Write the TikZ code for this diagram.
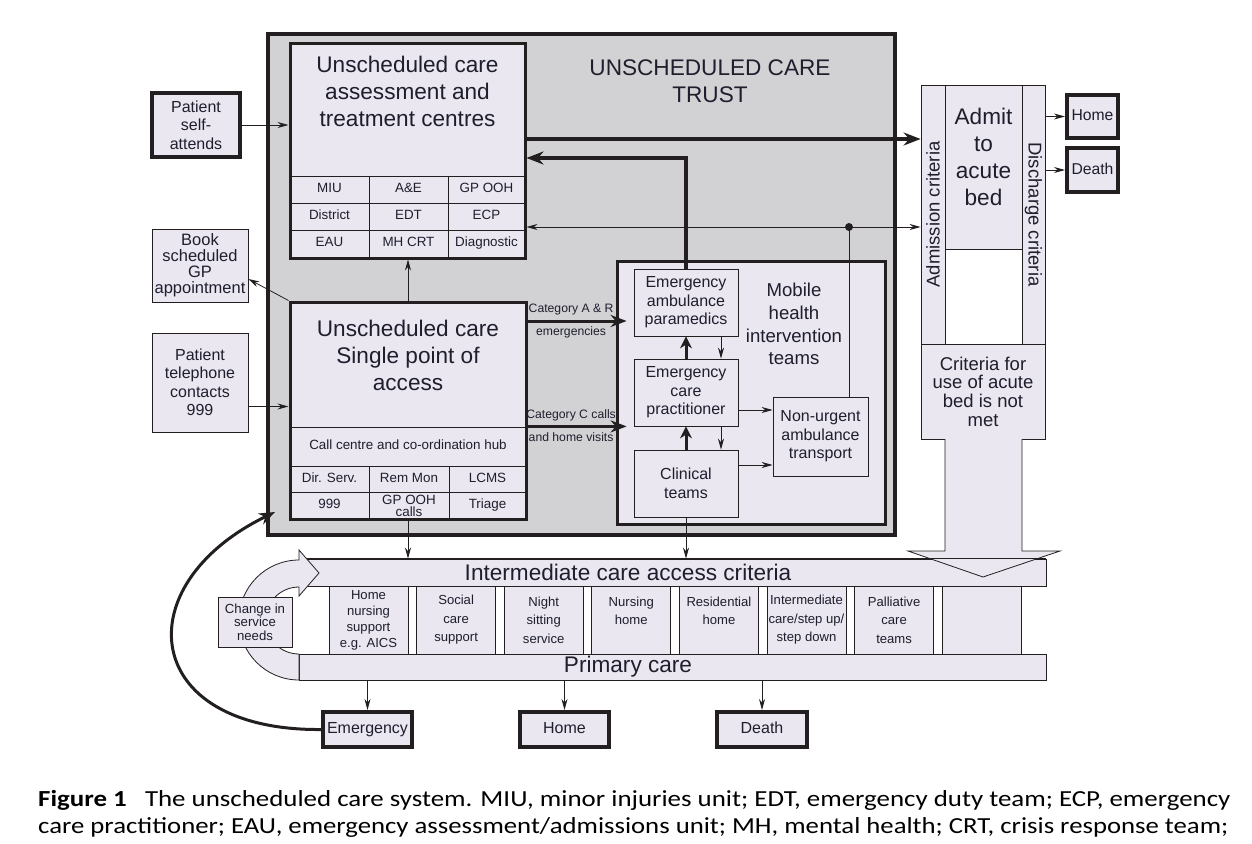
\documentclass[tikz,border=0pt]{standalone}
\usepackage{fontspec}
\usepackage{graphicx}
\setmainfont{Liberation Sans}
\newfontfamily\capfont{Carlito}
\usetikzlibrary{arrows.meta,positioning}
\definecolor{trustgray}{RGB}{210,210,213}
\definecolor{boxfill}{RGB}{234,231,240}
\definecolor{inkline}{RGB}{35,31,32}
\definecolor{inktext}{RGB}{30,30,45}
\newcommand{\fsbig}{\fontsize{22.6pt}{27pt}\selectfont}
\newcommand{\fsmid}{\fontsize{18.6pt}{22.7pt}\selectfont}
\newcommand{\fscrit}{\fontsize{18.5pt}{18.6pt}\selectfont}
\newcommand{\fsbox}{\fontsize{16pt}{18.5pt}\selectfont}
\newcommand{\fsbook}{\fontsize{16.5pt}{16pt}\selectfont}
\newcommand{\fsend}{\fontsize{15.7pt}{18pt}\selectfont}
\newcommand{\fscell}{\fontsize{13.4pt}{16pt}\selectfont}
\newcommand{\fstight}{\fontsize{13.4pt}{12pt}\selectfont}
\newcommand{\fsint}{\fontsize{13.1pt}{18.5pt}\selectfont}
\newcommand{\fsintfour}{\fontsize{13.1pt}{16pt}\selectfont}
\newcommand{\fschange}{\fontsize{13.2pt}{13.5pt}\selectfont}
\newcommand{\fscat}{\fontsize{12.2pt}{14pt}\selectfont}
\newcommand{\fscap}{\capfont\fontsize{23pt}{27pt}\selectfont}

\begin{document}
\begin{tikzpicture}[x=1pt, y=1pt, text=inktext,
  trustbox/.style={draw=inkline, line width=4pt, fill=trustgray, inner sep=0pt},
  heavybox/.style={draw=inkline, line width=3pt, fill=boxfill, inner sep=0pt},
  endbox/.style={draw=inkline, line width=4pt, fill=boxfill, inner sep=0pt, align=center},
  oneline/.style={text height=11.4pt, text depth=3.3pt},
  thinbox/.style={draw=inkline, line width=0.8pt, fill=boxfill, inner sep=0pt, align=center},
  cell/.style={draw=inkline, line width=0.8pt, inner sep=0pt, align=center, font=\fscell,
    text height=9.6pt, text depth=2.8pt},
  intcell/.style={draw=inkline, line width=0.8pt, fill=boxfill, inner sep=0pt, align=center,
    font=\fsint, minimum width=79pt, minimum height=68pt},
  arr/.style={-{Stealth[length=11pt,width=6pt]}, line width=0.8pt, draw=inkline},
  medarr/.style={-{Stealth[length=16pt,width=12pt]}, line width=3pt, draw=inkline},
  shortarr/.style={-{Stealth[length=12pt,width=12pt]}, line width=3pt, draw=inkline},
  heavyarr/.style={-{Stealth[length=17pt,width=13pt]}, line width=4pt, draw=inkline},
]
  \useasboundingbox (0,0) rectangle (1252,-843);
  \fill[white] (0,0) rectangle (1252,-843);

  % trust
  \node[trustbox, minimum width=627pt, minimum height=501pt] (trust) at (581.5,-284.5) {};
  \node[font=\fsbig, align=center] (trusttitle) at (710,-81) {UNSCHEDULED CARE\\TRUST};

  % assessment and treatment centres
  \node[heavybox, minimum width=235pt, minimum height=214pt] (atc) at (407.5,-151) {};
  \node[font=\fsbig, align=center] (atctitle) at (407.5,-91) {Unscheduled care\\assessment and\\treatment centres};
  \node[cell, minimum width=79pt, minimum height=27pt] (miu) at (329.5,-189.5) {MIU};
  \node[cell, minimum width=79pt, minimum height=27pt] (ae) at (408.5,-189.5) {A\&E};
  \node[cell, minimum width=77pt, minimum height=27pt] (gpooh) at (486.5,-189.5) {GP OOH};
  \node[cell, minimum width=79pt, minimum height=27pt] (district) at (329.5,-216.5) {District};
  \node[cell, minimum width=79pt, minimum height=27pt] (edt) at (408.5,-216.5) {EDT};
  \node[cell, minimum width=77pt, minimum height=27pt] (ecpcell) at (486.5,-216.5) {ECP};
  \node[cell, minimum width=79pt, minimum height=27pt] (eau) at (329.5,-243.5) {EAU};
  \node[cell, minimum width=79pt, minimum height=27pt] (mhcrt) at (408.5,-243.5) {MH CRT};
  \node[cell, minimum width=77pt, minimum height=27pt] (diag) at (486.5,-243.5) {Diagnostic};

  % single point of access
  \node[heavybox, minimum width=236pt, minimum height=217pt] (spa) at (408,-410.5) {};
  \node[font=\fsbig, align=center] (spatitle) at (408,-355) {Unscheduled care\\Single point of\\access};
  \node[cell, minimum width=236pt, minimum height=39pt] (spahub) at (408,-446.5) {Call centre and co-ordination hub};
  \node[cell, minimum width=79pt, minimum height=26pt] (dirserv) at (329.5,-479) {Dir. Serv.};
  \node[cell, minimum width=80pt, minimum height=26pt] (remmon) at (409,-479) {Rem Mon};
  \node[cell, minimum width=77pt, minimum height=26pt] (lcms) at (487.5,-479) {LCMS};
  \node[cell, minimum width=79pt, minimum height=27pt] (nine) at (329.5,-505.5) {999};
  \node[cell, font=\fstight, text height={}, text depth={}, minimum width=80pt, minimum height=27pt] (gpcalls) at (409,-505.5) {GP OOH\\calls};
  \node[cell, minimum width=77pt, minimum height=27pt] (triage) at (487.5,-505.5) {Triage};

  % mobile health intervention teams
  \node[heavybox, minimum width=268pt, minimum height=263pt] (mhit) at (751,-392.5) {};
  \node[font=\fsmid, align=center] (mhittitle) at (794,-324) {Mobile\\health\\intervention\\teams};
  \node[thinbox, font=\fsbox, minimum width=104pt, minimum height=67pt] (eap) at (686,-302.5) {Emergency\\ambulance\\paramedics};
  \node[thinbox, font=\fsbox, minimum width=104pt, minimum height=67pt] (ecp) at (686,-392.5) {Emergency\\care\\practitioner};
  \node[thinbox, font=\fsbox, minimum width=104pt, minimum height=67pt] (clin) at (686,-483.5) {Clinical\\teams};
  \node[thinbox, font=\fsbox, minimum width=95pt, minimum height=79pt] (nuat) at (820.5,-436.5) {Non-urgent\\ambulance\\transport};

  % patient entry points
  \node[endbox, font=\fsbox, minimum width=88pt, minimum height=64pt] (selfatt) at (196,-125) {Patient\\self-\\attends};
  \node[thinbox, font=\fsbook, minimum width=96pt, minimum height=73pt] (book) at (200,-265.5) {Book\\scheduled\\GP\\appointment};
  \node[thinbox, font=\fsbox, minimum width=96pt, minimum height=99pt] (phone) at (200,-382.5) {Patient\\telephone\\contacts\\999};

  % acute bed
  \node[thinbox, font=\fscrit, minimum width=24pt, minimum height=259pt] (admcrit) at (933,-214.5) {\rotatebox{90}{Admission criteria}};
  \node[thinbox, font=\fscrit, minimum width=23pt, minimum height=259pt] (dischcrit) at (1033.5,-214.5) {\rotatebox{-90}{Discharge criteria}};
  \node[thinbox, minimum width=77pt, minimum height=164pt] (admit) at (983.5,-167) {};
  \node[font=\fsbig, align=center] (admittext) at (983.5,-156.5) {Admit\\to\\acute\\bed};
  \node[thinbox, font=\fscrit, minimum width=124pt, minimum height=95pt] (crit) at (983,-391.5) {Criteria for\\use of acute\\bed is not\\met};
  \node[endbox, oneline, font=\fsend, minimum width=51pt, minimum height=43pt] (homer) at (1092.5,-116.5) {Home};
  \node[endbox, oneline, font=\fsend, minimum width=51pt, minimum height=44pt] (deathr) at (1092.5,-170) {Death};

  % intermediate and primary care
  \node[thinbox, minimum width=746pt, minimum height=27pt] (access) at (673,-572.5) {};
  \node[font=\fsbig] (accesstext) at (628,-572.5) {Intermediate care access criteria};
  \node[thinbox, minimum width=747pt, minimum height=26pt] (primary) at (672.5,-667) {};
  \node[font=\fsbig] (primarytext) at (628,-667) {Primary care};
  \draw[line width=0.8pt, draw=inkline, fill=boxfill] (945,-439) -- (945,-551) -- (908,-551) -- (983,-577)
    -- (1060,-551) -- (1022,-551) -- (1022,-439);
  \draw[line width=0.8pt, draw=inkline] (access.north west) -- (access.north east);

  \node[intcell, font=\fsintfour] (homenursing) at (368.5,-620) {Home\\nursing\\support\\e.g. AICS};
  \node[intcell] (social) at (456.1,-620) {Social\\care\\support};
  \node[intcell] (night) at (543.7,-620) {Night\\sitting\\service};
  \node[intcell] (nursing) at (631.3,-620) {Nursing\\home\\~};
  \node[intcell] (resid) at (718.9,-620) {Residential\\home\\~};
  \node[intcell] (stepup) at (806.5,-620) {Intermediate\\care/step up/\\step down};
  \node[intcell] (palliative) at (894.1,-620) {Palliative\\care\\teams};
  \node[intcell] (spare) at (981.7,-620) {};

  \draw[line width=0.8pt, draw=inkline, fill=boxfill] (299,-680) arc[start angle=270, end angle=90, radius=60pt]
    -- (299,-550) -- (319,-573) -- (299,-596) -- (299,-587)
    arc[start angle=90, end angle=270, radius=33.5pt] -- cycle;
  \node[thinbox, font=\fschange, minimum width=74pt, minimum height=50pt] (change) at (255,-622) {Change in\\service\\needs};

  \node[endbox, oneline, font=\fsbox, minimum width=89pt, minimum height=35pt] (emerg) at (367.5,-729.5) {Emergency};
  \node[endbox, oneline, font=\fsbox, minimum width=89pt, minimum height=35pt] (homeb) at (564.5,-729.5) {Home};
  \node[endbox, oneline, font=\fsbox, minimum width=90pt, minimum height=35pt] (deathb) at (762,-729.5) {Death};

  % connectors
  \coordinate (atcout) at ([yshift=12pt]atc.east);
  \coordinate (atcback) at ([yshift=-7pt]atc.east);
  \coordinate (hub) at (849,-227);
  \coordinate (cata) at ([yshift=-18.5pt]eap.west);
  \coordinate (ecpout) at ([yshift=-17.5pt]ecp.east);
  \coordinate (clinout) at ([yshift=18.5pt]clin.east);
  \coordinate (bookin) at ([yshift=-13.5pt]book.east);
  \coordinate (phoneout) at ([yshift=-24pt]phone.east);
  \coordinate (trustcorner) at (275,-512);

  \draw[heavyarr] (atcout) -- (atcout -| admcrit.west);
  \draw[heavyarr] (eap.north) |- (atcback);
  \draw[line width=0.8pt, draw=inkline] (nuat.north -| hub) -- (hub);
  \fill[inkline] (hub) circle[radius=4pt];
  \draw[arr] (hub) -- (hub -| atc.east);
  \draw[arr] (hub) -- (hub -| admcrit.west);

  \draw[arr] (selfatt.east) -- (selfatt.east -| atc.west);
  \draw[arr] (spa.north west) -- (bookin);
  \draw[arr] (phoneout) -- (phoneout -| spa.west);
  \draw[arr] (spa.north) -- (spa.north |- atc.south);

  \draw[medarr] (spa.east |- cata) -- ([xshift=-7pt]cata)
    node[pos=0.44, above=1pt, font=\fscat] (catatop) {Category A \& R}
    node[pos=0.44, below=1pt, font=\fscat] (catabot) {emergencies};
  \draw[medarr] (spa.east |- ecp.south west) -- ([xshift=-7pt]ecp.south west)
    node[pos=0.44, above=1pt, font=\fscat] (catctop) {Category C calls}
    node[pos=0.44, below=1pt, font=\fscat] (catcbot) {and home visits};

  \draw[shortarr] (ecp.north) -- (eap.south);
  \draw[arr] ([xshift=35pt]eap.south) -- ([xshift=35pt]ecp.north);
  \draw[shortarr] (clin.north) -- (ecp.south);
  \draw[arr] ([xshift=35pt]ecp.south) -- ([xshift=35pt]clin.north);
  \draw[arr] (ecpout) -- (ecpout -| nuat.west);
  \draw[arr] (clinout) -- (clinout -| nuat.west);

  \draw[arr] (spa.south) -- (spa.south |- access.north);
  \draw[arr] (clin.south) -- (clin.south |- access.north);

  \draw[arr] (dischcrit.east |- homer) -- (homer);
  \draw[arr] (dischcrit.east |- deathr) -- (deathr);

  \draw[arr] (primary.south -| emerg) -- (emerg);
  \draw[arr] (primary.south -| homeb) -- (homeb);
  \draw[arr] (primary.south -| deathb) -- (deathb);
  \draw[medarr] (emerg.west) .. controls (140,-731) and (125,-585) .. (trustcorner);

  % caption
  \node[anchor=base west, inner sep=0pt, font=\fscap, text=black] (capone) at (38,-806)
    {\resizebox{1192pt}{\height}{\textbf{Figure 1}\hspace{0.45em} The unscheduled care system. MIU, minor injuries unit; EDT, emergency duty team; ECP, emergency}};
  \node[anchor=base west, inner sep=0pt, font=\fscap, text=black] (captwo) at (38,-833)
    {\resizebox{1190pt}{\height}{care practitioner; EAU, emergency assessment/admissions unit; MH, mental health; CRT, crisis response team;}};
\end{tikzpicture}
\end{document}
